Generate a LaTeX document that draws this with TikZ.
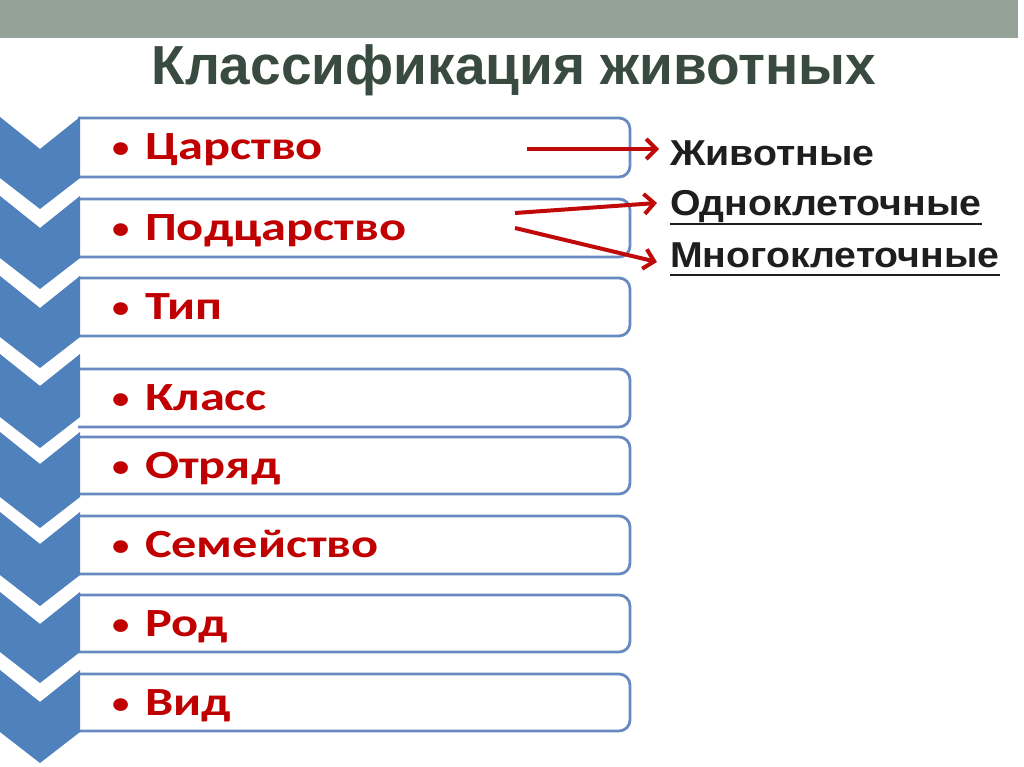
\documentclass[tikz,border=0pt]{standalone}
\usepackage{fontspec}
\setmainfont{Liberation Sans}
\newfontfamily\carlito{Carlito}
\usetikzlibrary{arrows.meta}
\definecolor{chevcol}{RGB}{79,129,189}
\definecolor{boxline}{RGB}{104,138,192}
\definecolor{txtred}{RGB}{192,0,0}
\definecolor{arrred}{RGB}{192,10,10}
\definecolor{barcol}{RGB}{148,162,152}
\definecolor{titlecol}{RGB}{57,75,64}
\definecolor{rtext}{RGB}{30,30,30}
\newcommand\mychevron[2]{\fill[chevcol] (0,#1) -- (40,{#1+32}) -- (80,#1) -- (80,#2) -- (40,{#2+31}) -- (0,#2) -- cycle;}
\newcommand\mybox[2]{\draw[boxst] (78,#1) -- (630,#1) -- (630,#2) -- (78,#2);}
\newcommand\bt[1]{\makebox[33pt][l]{\raisebox{2pt}{\scalebox{1.15}[1]{\fontsize{30}{30}\selectfont•}}}\scalebox{1.26}[1]{#1}}
\begin{document}
\begin{tikzpicture}[x=1pt,y=-1pt,
  boxst/.style={draw=boxline,line width=2.8pt,rounded corners=11pt},
  boxtext/.style={anchor=base west,inner sep=0pt,text=txtred,font=\carlito\bfseries\fontsize{40}{42}\selectfont},
  rtxt/.style={anchor=base west,inner sep=0pt,text=rtext,font=\bfseries\fontsize{36}{38}\selectfont},
  arr/.style={draw=arrred,line width=4pt,-{Straight Barb[length=10pt,width=20pt]}},
  uline/.style={draw=rtext,line width=2.5pt}]
\useasboundingbox (0,0) rectangle (1024,767);
\fill[white] (0,0) rectangle (1024,767);
\fill[barcol] (0,0) rectangle (1018,38);
\node[anchor=base,inner sep=0pt,text=titlecol,font=\bfseries\fontsize{55}{58}\selectfont] (title) at (514,85) {Классификация животных};
% boxes
\mybox{118}{177}
\mybox{199}{257}
\mybox{278}{336}
\mybox{369}{427}
\mybox{437}{494}
\mybox{516}{574}
\mybox{595}{652}
\mybox{674}{731}
% chevrons
\mychevron{117}{178}
\mychevron{196}{258}
\mychevron{276}{337}
\mychevron{354}{417}
\mychevron{432}{497}
\mychevron{512}{575}
\mychevron{592}{652}
\mychevron{670}{732}
% texts
\node[boxtext] (t1) at (112,160) {\bt{Царство}};
\node[boxtext] (t2) at (112,240.5) {\bt{Подцарство}};
\node[boxtext] (t3) at (112,319.5) {\bt{Тип}};
\node[boxtext] (t4) at (112,410.5) {\bt{Класс}};
\node[boxtext] (t5) at (112,478) {\bt{Отряд}};
\node[boxtext] (t6) at (112,557.5) {\bt{Семейство}};
\node[boxtext] (t7) at (112,636) {\bt{Род}};
\node[boxtext] (t8) at (112,715) {\bt{Вид}};
% right texts
\node[rtxt] (zhiv) at (670,166) {\scalebox{1.09}[1]{Животные}};
\node[rtxt] (odno) at (670,216) {\scalebox{1.09}[1]{Одноклеточные}};
\node[rtxt] (mnogo) at (670,267) {\scalebox{1.09}[1]{Многоклеточные}};
\draw[uline] ([yshift=-8pt]odno.base west) -- ([yshift=-8pt]odno.base east);
\draw[uline] ([yshift=-8pt]mnogo.base west) -- ([yshift=-8pt]mnogo.base east);
% arrows
\coordinate (a1s) at (527,149);
\coordinate (a2s) at (515,213);
\coordinate (a3s) at (515,228);
\draw[arr] (a1s) -- ([xshift=-11pt,yshift=17pt]zhiv.base west);
\draw[arr] (a2s) -- ([xshift=-13pt,yshift=13pt]odno.base west);
\draw[arr] (a3s) -- ([xshift=-13pt,yshift=5pt]mnogo.base west);
\end{tikzpicture}
\end{document}
